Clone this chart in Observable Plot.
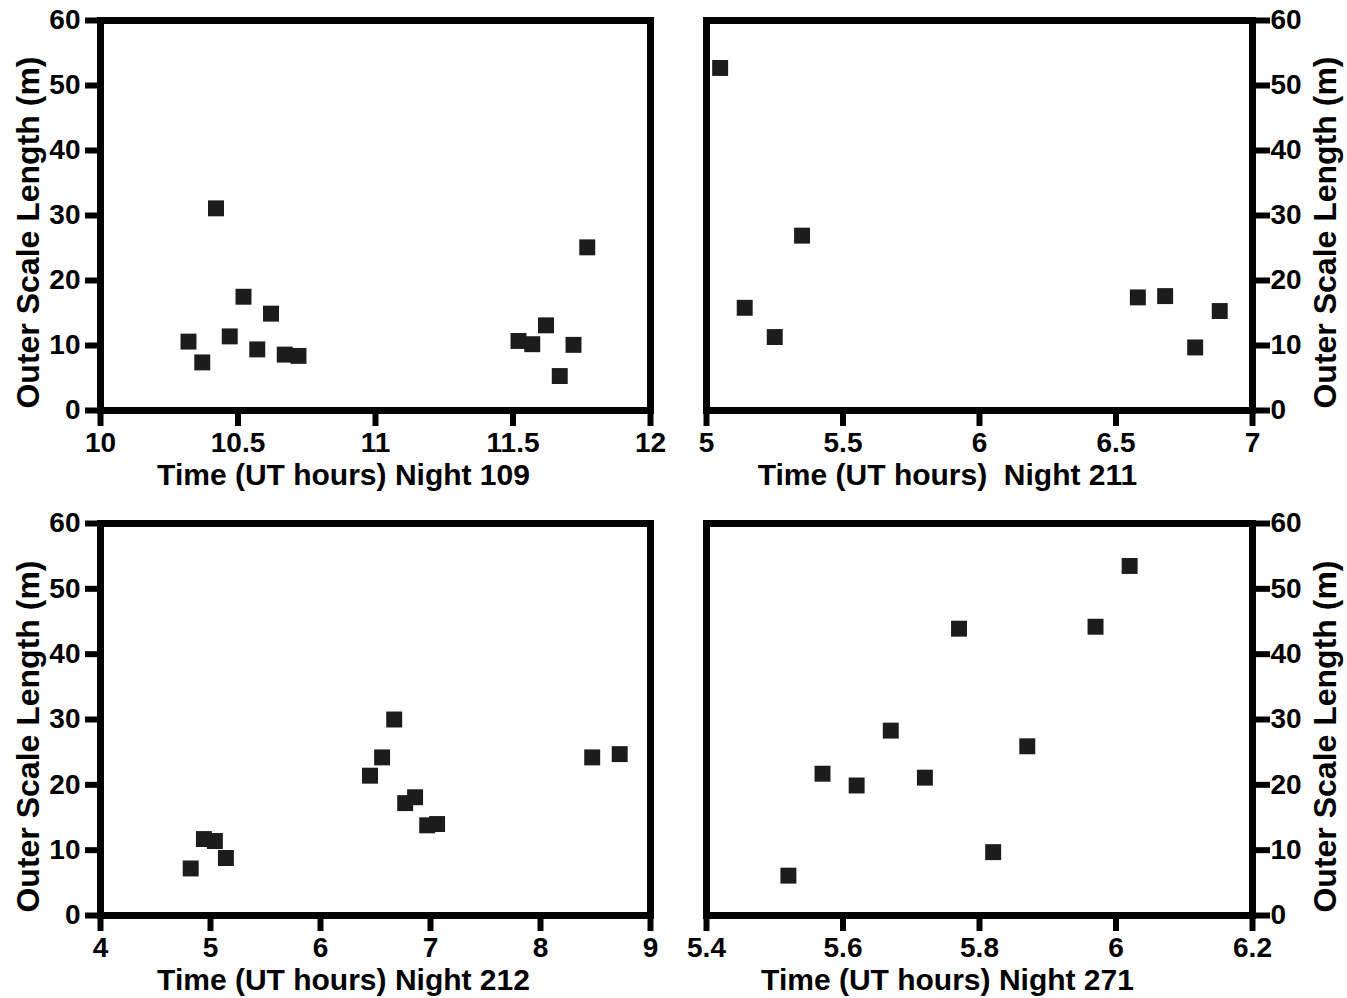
<!DOCTYPE html>
<html>
<head>
<meta charset="utf-8">
<script src="https://cdn.jsdelivr.net/npm/d3@7"></script>
<script src="https://cdn.jsdelivr.net/npm/@observablehq/plot@0.6"></script>
<style>
  html, body { margin: 0; padding: 0; background: #fff; }
  #chart { position: relative; width: 1347px; height: 998px; background: #fff; }
  #chart svg { position: absolute; }
</style>
</head>
<body>
<div id="chart"></div>
<script>
// ---- Data ----
const yLabel = "Outer Scale Length (m)";
const yTicks = [0, 10, 20, 30, 40, 50, 60];

const night109Label = "Time (UT hours) Night 109";
const night109Ticks = [10, 10.5, 11, 11.5, 12];
const night109Time  = [10.32, 10.37, 10.42, 10.47, 10.52, 10.57, 10.62, 10.67, 10.72, 11.52, 11.57, 11.62, 11.67, 11.72, 11.77];
const night109Scale = [10.6, 7.4, 31.1, 11.4, 17.5, 9.4, 14.9, 8.6, 8.4, 10.7, 10.2, 13.1, 5.3, 10.1, 25.1];

const night211Label = "Time (UT hours)  Night 211";
const night211Ticks = [5, 5.5, 6, 6.5, 7];
const night211Time  = [5.05, 5.14, 5.25, 5.35, 6.58, 6.68, 6.79, 6.88];
const night211Scale = [52.7, 15.8, 11.3, 26.9, 17.4, 17.6, 9.7, 15.3];

const night212Label = "Time (UT hours) Night 212";
const night212Ticks = [4, 5, 6, 7, 8, 9];
const night212Time  = [4.82, 4.94, 5.04, 5.14, 6.45, 6.56, 6.67, 6.77, 6.86, 6.97, 7.06, 8.47, 8.72];
const night212Scale = [7.2, 11.7, 11.4, 8.8, 21.4, 24.2, 30.0, 17.2, 18.1, 13.8, 14.0, 24.2, 24.7];

const night271Label = "Time (UT hours) Night 271";
const night271Ticks = [5.4, 5.6, 5.8, 6, 6.2];
const night271Time  = [5.52, 5.57, 5.62, 5.67, 5.72, 5.77, 5.82, 5.87, 5.97, 6.02];
const night271Scale = [6.1, 21.7, 19.9, 28.3, 21.1, 43.9, 9.7, 25.9, 44.2, 53.5];

// ---- Drawing ----
const FONT = "'Liberation Sans', Arial, Helvetica, sans-serif";
const fmt = d => String(d);

function panel({time, scale, xTicks, xLabel, yAnchor, left, top, width, height, margin}) {
  const data = time.map((t, i) => ({t, v: scale[i]}));
  const right = yAnchor === "right";
  const svg = Plot.plot({
    width, height,
    marginLeft: margin.left, marginRight: margin.right,
    marginTop: margin.top, marginBottom: margin.bottom,
    style: {fontFamily: FONT, color: "#000", background: "transparent", overflow: "visible"},
    x: {domain: [xTicks[0], xTicks[xTicks.length - 1]]},
    y: {domain: [yTicks[0], yTicks[yTicks.length - 1]]},
    marks: [
      Plot.axisX(xTicks, {anchor: "bottom", tickSize: 16, tickPadding: 6, strokeWidth: 6,
        tickFormat: fmt, fontSize: 28, fontWeight: "bold", fill: "#000", label: null}),
      Plot.axisY(yTicks, {anchor: yAnchor, tickSize: right ? 17 : 15, tickPadding: right ? 1 : 5,
        strokeWidth: 6, tickFormat: fmt, fontSize: 28, fontWeight: "bold", fill: "#000", label: null}),
      Plot.frame({stroke: "#000", strokeWidth: 7}),
      Plot.dot(data, {x: "t", y: "v", symbol: "square", r: 9, fill: "#1c1c1c", stroke: null}),
      Plot.text([xLabel], {frameAnchor: "bottom", dy: 65, dx: -32, fontSize: 30,
        fontWeight: "bold", fill: "#000", textAnchor: "middle", lineAnchor: "middle"}),
      Plot.text([yLabel], {frameAnchor: right ? "right" : "left", dx: right ? 73 : -72, dy: 17,
        rotate: -90, textAnchor: "middle", lineAnchor: "middle", fontSize: 32,
        fontWeight: "bold", fill: "#000"})
    ]
  });
  svg.style.left = left + "px";
  svg.style.top = top + "px";
  document.getElementById("chart").appendChild(svg);
}

const topMargin = {top: 20, bottom: 90};
const botMargin = {top: 20, bottom: 83};

panel({time: night109Time, scale: night109Scale, xTicks: night109Ticks, xLabel: night109Label,
  yAnchor: "left", left: 0, top: 0, width: 680, height: 500,
  margin: {left: 100, right: 30, ...topMargin}});
panel({time: night211Time, scale: night211Scale, xTicks: night211Ticks, xLabel: night211Label,
  yAnchor: "right", left: 680, top: 0, width: 667, height: 500,
  margin: {left: 26, right: 95, ...topMargin}});
panel({time: night212Time, scale: night212Scale, xTicks: night212Ticks, xLabel: night212Label,
  yAnchor: "left", left: 0, top: 503, width: 680, height: 495,
  margin: {left: 100, right: 30, ...botMargin}});
panel({time: night271Time, scale: night271Scale, xTicks: night271Ticks, xLabel: night271Label,
  yAnchor: "right", left: 680, top: 503, width: 667, height: 495,
  margin: {left: 26, right: 95, ...botMargin}});
</script>
</body>
</html>
